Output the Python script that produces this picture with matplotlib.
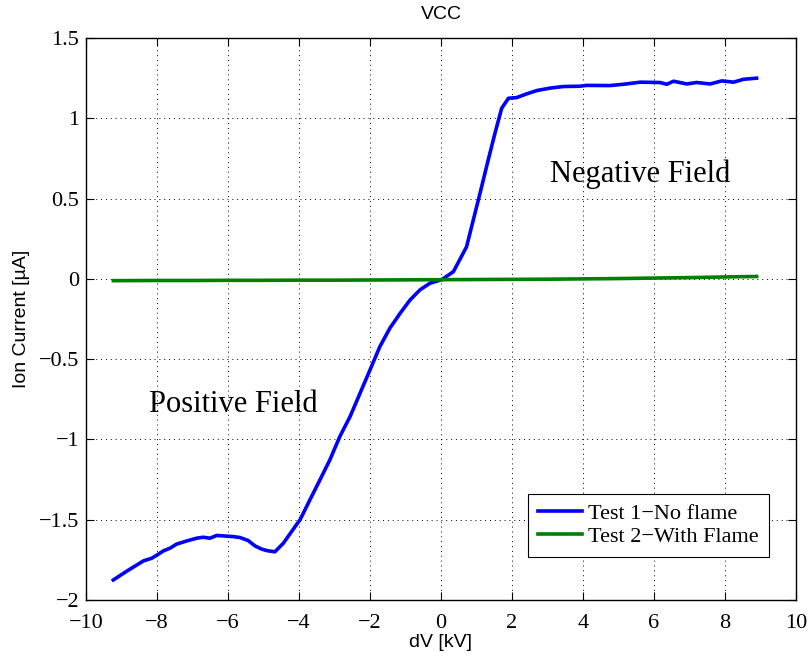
#!/usr/bin/env python

# ion current vs voltage, VCC test, remade in matplotlib
import matplotlib
matplotlib.use("Agg")
import matplotlib.pyplot as plt

# Test 1 - no flame
dv_1 = [-9.23, -8.85, -8.38, -8.15, -8.0, -7.82, -7.63, -7.45, -7.16, -6.88,
        -6.70, -6.51, -6.32, -5.85, -5.66, -5.43, -5.24, -5.05, -4.91, -4.68,
        -4.44, -4.11, -3.97, -3.69, -3.41, -3.13, -2.85, -2.56, -2.28, -2.0,
        -1.72, -1.44, -1.15, -0.87, -0.59, -0.31, 0.02, 0.35, 0.72, 0.91,
        1.10, 1.33, 1.52, 1.71, 1.90, 2.13, 2.41, 2.70, 3.07, 3.45,
        3.92, 4.10, 4.76, 5.14, 5.61, 6.17, 6.36, 6.55, 6.92, 7.20,
        7.58, 7.91, 8.24, 8.52, 8.89]
current_1 = [-1.875, -1.82, -1.756, -1.74, -1.72, -1.694, -1.677, -1.652, -1.632, -1.615,
             -1.609, -1.615, -1.598, -1.605, -1.611, -1.63, -1.663, -1.683, -1.692, -1.70,
             -1.646, -1.543, -1.50, -1.375, -1.252, -1.127, -0.982, -0.857, -0.712, -0.567,
             -0.421, -0.307, -0.214, -0.131, -0.068, -0.027, -0.005, 0.045, 0.20, 0.367,
             0.534, 0.741, 0.907, 1.063, 1.125, 1.129, 1.152, 1.173, 1.188, 1.198,
             1.200, 1.205, 1.204, 1.212, 1.225, 1.223, 1.212, 1.231, 1.214, 1.223,
             1.214, 1.233, 1.225, 1.243, 1.25]

# Test 2 - with flame, basically flat
dv_2 = [-9.23, -8.0, -7.0, -6.0, -5.0, -4.0, -3.0, -2.0, -1.0, 0.0,
        1.0, 2.0, 3.0, 4.0, 5.0, 6.0, 7.0, 8.0, 8.89]
current_2 = [-0.011, -0.010, -0.010, -0.009, -0.009, -0.008, -0.008, -0.007, -0.006, -0.005,
             -0.004, -0.003, -0.002, 0.0, 0.002, 0.005, 0.008, 0.012, 0.015]

xticks = [-10, -8, -6, -4, -2, 0, 2, 4, 6, 8, 10]
yticks = [-2, -1.5, -1, -0.5, 0, 0.5, 1, 1.5]
xtick_labels = ["\u221210", "\u22128", "\u22126", "\u22124", "\u22122", "0", "2", "4", "6", "8", "10"]
ytick_labels = ["\u22122", "\u22121.5", "\u22121", "\u22120.5", "0", "0.5", "1", "1.5"]

serif = "Liberation Serif"
sans = "Liberation Sans"

fig = plt.figure(figsize=(8.12, 6.59), dpi=100)
ax = fig.add_axes([0.1059, 0.0895, 0.8744, 0.8528])

ax.plot(dv_1, current_1, color=(0, 0, 1), lw=2.6, label="Test 1\u2212No flame")
ax.plot(dv_2, current_2, color=(0, 0.5, 0), lw=2.6, label="Test 2\u2212With Flame")

ax.set_xlim(-10, 10)
ax.set_ylim(-2, 1.5)
ax.set_xticks(xticks)
ax.set_yticks(yticks)
ax.set_xticklabels(xtick_labels, fontfamily=serif, fontsize=16)
ax.set_yticklabels(ytick_labels, fontfamily=serif, fontsize=16)

# matlab look: ticks inside, all four sides, dotted grid
ax.tick_params(direction="in", top=True, right=True, length=6, width=0.8)
ax.tick_params(axis="x", pad=10)
ax.tick_params(axis="y", pad=5)
ax.grid(True, linestyle=(0, (1, 4)), color="black", lw=0.7)
for s in ax.spines.values():
    s.set_linewidth(1.0)

ax.set_xlabel("dV [kV]", fontfamily=sans, fontsize=14, labelpad=1)
ax.set_ylabel("Ion Current [\u00b5A]", fontfamily=sans, fontsize=14, labelpad=6)
ax.set_title("VCC", fontfamily=sans, fontsize=14, pad=14)

ax.text(5.61, 0.65, "Negative Field", fontfamily=serif, fontsize=22, ha="center", va="center")
ax.text(-5.85, -0.785, "Positive Field", fontfamily=serif, fontsize=22, ha="center", va="center")

leg = ax.legend(loc="lower right", bbox_to_anchor=(0.962, 0.0765),
                prop={"family": serif, "size": 16}, fancybox=False,
                framealpha=1, edgecolor="black", borderpad=0.45,
                handlelength=1.95, handletextpad=0.3, labelspacing=0.1,
                borderaxespad=0)
leg.get_frame().set_linewidth(0.8)

fig.savefig("out.png", dpi=100)
